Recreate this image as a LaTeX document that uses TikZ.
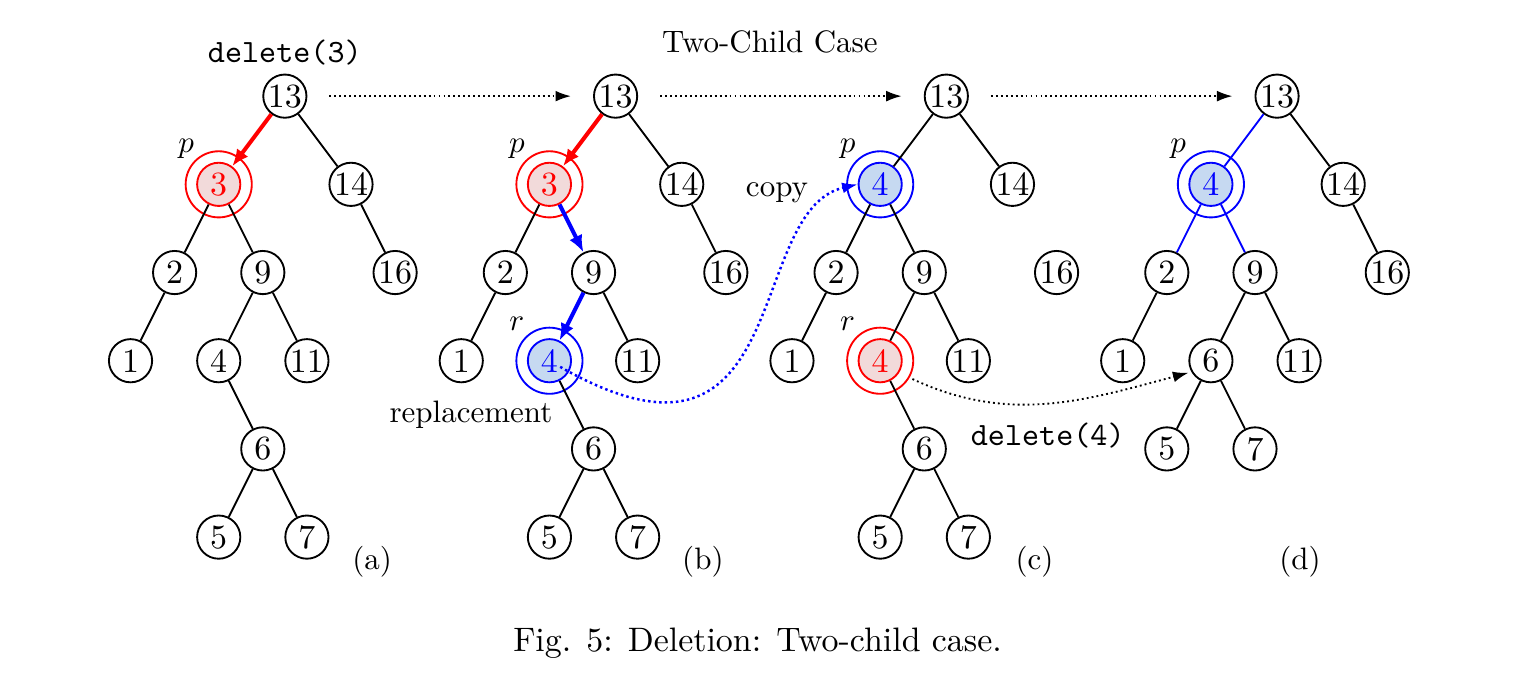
\documentclass[tikz,border=0pt]{standalone}
\usepackage{tikz}
\usepackage{amsmath}
\usetikzlibrary{arrows.meta}
\definecolor{pinkfill}{RGB}{242,218,218}
\definecolor{bluefill}{RGB}{198,217,241}

\begin{document}
\begin{tikzpicture}[
        vertex/.style={circle, draw, semithick, minimum size=0.49cm, inner sep=0pt, font=\fontsize{10.95}{13.6}\selectfont},
        redvertex/.style={vertex, draw=red, fill=pinkfill, text=red},
        bluevertex/.style={vertex, draw=blue, fill=bluefill, text=blue},
        ring/.style={circle, semithick, minimum size=0.75cm, inner sep=0pt},
        edge/.style={semithick},
        cmd/.style={font=\fontsize{10.5}{12.6}\selectfont\ttfamily},
        push/.style={-{Latex[length=5.5pt,width=4.5pt]}, line width=1.3pt},
        hop/.style={-{Latex[length=5pt,width=3.5pt]}, semithick, densely dotted, shorten <=0.25cm, shorten >=0.25cm}]
        \useasboundingbox (-3.23,-6.58) rectangle (14.05,1.09);

        % (a)
        \node[vertex] (a13) at (0,0) {13};
        \node[redvertex] (a3) at (-0.75,-1) {3};
        \node[vertex] (a14) at (0.75,-1) {14};
        \node[vertex] (a2) at (-1.25,-2) {2};
        \node[vertex] (a9) at (-0.25,-2) {9};
        \node[vertex] (a16) at (1.25,-2) {16};
        \node[vertex] (a1) at (-1.75,-3) {1};
        \node[vertex] (a4) at (-0.75,-3) {4};
        \node[vertex] (a11) at (0.25,-3) {11};
        \node[vertex] (a6) at (-0.25,-4) {6};
        \node[vertex] (a5) at (-0.75,-5) {5};
        \node[vertex] (a7) at (0.25,-5) {7};
        \node[ring, draw=red] (a3ring) at (a3) {};
        \draw[edge] (a13) -- (a14) (a3) -- (a2) (a3) -- (a9) (a14) -- (a16) (a2) -- (a1)
                (a9) -- (a4) (a9) -- (a11) (a4) -- (a6) (a6) -- (a5) (a6) -- (a7);
        \draw[push, red] (a13) -- (a3);
        \node[cmd] (adel) at (0,0.49) {delete(3)};
        \node (ap) at (-1.12,-0.6) {$p$};
        \node (acap) at (0.99,-5.28) {(a)};

        % (b)
        \node[vertex] (b13) at (3.75,0) {13};
        \node[redvertex] (b3) at (3,-1) {3};
        \node[vertex] (b14) at (4.5,-1) {14};
        \node[vertex] (b2) at (2.5,-2) {2};
        \node[vertex] (b9) at (3.5,-2) {9};
        \node[vertex] (b16) at (5,-2) {16};
        \node[vertex] (b1) at (2,-3) {1};
        \node[bluevertex] (b4) at (3,-3) {4};
        \node[vertex] (b11) at (4,-3) {11};
        \node[vertex] (b6) at (3.5,-4) {6};
        \node[vertex] (b5) at (3,-5) {5};
        \node[vertex] (b7) at (4,-5) {7};
        \node[ring, draw=red] (b3ring) at (b3) {};
        \node[ring, draw=blue] (b4ring) at (b4) {};
        \draw[edge] (b13) -- (b14) (b3) -- (b2) (b14) -- (b16) (b2) -- (b1)
                (b9) -- (b11) (b4) -- (b6) (b6) -- (b5) (b6) -- (b7);
        \draw[push, red] (b13) -- (b3);
        \draw[push, blue] (b3) -- (b9);
        \draw[push, blue] (b9) -- (b4);
        \node (bp) at (2.63,-0.6) {$p$};
        \node (br) at (2.63,-2.58) {$r$};
        \node (brep) at (2.11,-3.61) {replacement};
        \node (bcap) at (4.74,-5.28) {(b)};

        % (c)
        \node[vertex] (c13) at (7.5,0) {13};
        \node[bluevertex] (c4) at (6.75,-1) {4};
        \node[vertex] (c14) at (8.25,-1) {14};
        \node[vertex] (c2) at (6.25,-2) {2};
        \node[vertex] (c9) at (7.25,-2) {9};
        \node[vertex] (c16) at (8.75,-2) {16};
        \node[vertex] (c1) at (5.75,-3) {1};
        \node[redvertex] (c4r) at (6.75,-3) {4};
        \node[vertex] (c11) at (7.75,-3) {11};
        \node[vertex] (c6) at (7.25,-4) {6};
        \node[vertex] (c5) at (6.75,-5) {5};
        \node[vertex] (c7) at (7.75,-5) {7};
        \node[ring, draw=blue] (c4ring) at (c4) {};
        \node[ring, draw=red] (c4rring) at (c4r) {};
        \draw[edge] (c13) -- (c4) (c13) -- (c14) (c4) -- (c2) (c4) -- (c9) (c2) -- (c1)
                (c9) -- (c4r) (c9) -- (c11) (c4r) -- (c6) (c6) -- (c5) (c6) -- (c7);
        \node (cp) at (6.38,-0.6) {$p$};
        \node (cr) at (6.38,-2.58) {$r$};
        \node (ccopy) at (5.58,-1.09) {copy};
        \node[cmd] (cdel) at (8.65,-3.85) {delete(4)};
        \node (ccap) at (8.5,-5.28) {(c)};

        % (d)
        \node[vertex] (d13) at (11.25,0) {13};
        \node[bluevertex] (d4) at (10.5,-1) {4};
        \node[vertex] (d14) at (12,-1) {14};
        \node[vertex] (d2) at (10,-2) {2};
        \node[vertex] (d9) at (11,-2) {9};
        \node[vertex] (d16) at (12.5,-2) {16};
        \node[vertex] (d1) at (9.5,-3) {1};
        \node[vertex] (d6) at (10.5,-3) {6};
        \node[vertex] (d11) at (11.5,-3) {11};
        \node[vertex] (d5) at (10,-4) {5};
        \node[vertex] (d7) at (11,-4) {7};
        \node[ring, draw=blue] (d4ring) at (d4) {};
        \draw[edge] (d13) -- (d14) (d14) -- (d16) (d2) -- (d1) (d9) -- (d6)
                (d9) -- (d11) (d6) -- (d5) (d6) -- (d7);
        \draw[edge, blue] (d13) -- (d4) (d4) -- (d2) (d4) -- (d9);
        \node (dp) at (10.13,-0.6) {$p$};
        \node (dcap) at (11.51,-5.28) {(d)};

        % steps
        \draw[hop] (a13) -- (b13);
        \draw[hop] (b13) -- (c13);
        \draw[hop] (c13) -- (d13);
        \draw[blue, thick, densely dotted, -{Latex[length=5pt,width=3.5pt]}, shorten <=0.14cm]
                (b4.center) .. controls (5.8,-4.6) and (5.2,-1.3) .. (c4.west);
        \draw[semithick, densely dotted, -{Latex[length=5pt,width=3.5pt]}, shorten <=1pt, shorten >=1pt]
                (c4rring.-30) to[out=-25, in=195] (d6.210);

        \node (title) at (5.5,0.61) {Two-Child Case};
        \node (fig) at (5.36,-6.2) {\fontsize{10.95}{13.6}\selectfont Fig. 5: Deletion: Two-child case.};
    \end{tikzpicture}
\end{document}
